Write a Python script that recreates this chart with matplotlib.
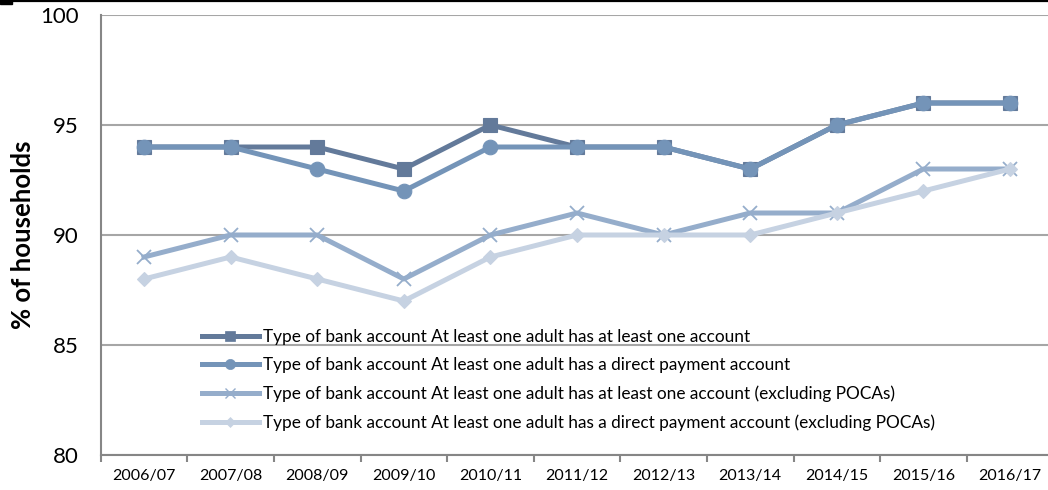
import numpy as np
import matplotlib.pyplot as plt
from matplotlib.lines import Line2D
from matplotlib.patches import Rectangle

plt.rcParams['font.family'] = ['Lato', 'DejaVu Sans']

years = ['2006/07', '2007/08', '2008/09', '2009/10', '2010/11', '2011/12',
         '2012/13', '2013/14', '2014/15', '2015/16', '2016/17']

any_account = [94, 94, 94, 93, 95, 94, 94, 93, 95, 96, 96]
direct_payment = [94, 94, 93, 92, 94, 94, 94, 93, 95, 96, 96]
any_account_ex_poca = [89, 90, 90, 88, 90, 91, 90, 91, 91, 93, 93]
direct_payment_ex_poca = [88, 89, 88, 87, 89, 90, 90, 90, 91, 92, 93]

labels = [
    'Type of bank account At least one adult has at least one account',
    'Type of bank account At least one adult has a direct payment account',
    'Type of bank account At least one adult has at least one account (excluding POCAs)',
    'Type of bank account At least one adult has a direct payment account (excluding POCAs)',
]
colors = ['#637A9A', '#7494B8', '#95ADCB', '#C6D2E2']

fig = plt.figure(figsize=(10.48, 4.9), dpi=100)
ax = fig.add_axes([100.7 / 1048, 35 / 490, 952.6 / 1048, 440 / 490])

x = np.arange(len(years))
series = [any_account, direct_payment, any_account_ex_poca, direct_payment_ex_poca]
styles = [
    dict(marker='s', markersize=10),
    dict(marker='o', markersize=10.5),
    dict(marker='x', markersize=10, markeredgewidth=1.3),
    dict(marker='D', markersize=7.5),
]
for vals, lab, col, st in zip(series, labels, colors, styles):
    kw = dict(st)
    if kw['marker'] != 'x':
        kw['markeredgewidth'] = 0.8
    ax.plot(x, vals, color=col, linewidth=3.6, markerfacecolor=col,
            markeredgecolor=col, solid_joinstyle='round', label=lab,
            clip_on=False, zorder=3, **kw)

ax.set_xlim(-0.5, len(years) - 0.5)
ax.set_ylim(80, 100)
ax.set_yticks([80, 85, 90, 95, 100])
ax.set_xticks(x)
ax.set_xticklabels(years, fontsize=11.5)
ax.set_xticks(np.arange(-0.5, len(years), 1.0), minor=True)
ax.tick_params(axis='x', which='major', length=0, pad=10)
ax.tick_params(axis='x', which='minor', length=5, width=1.5, color='#868686',
               direction='out')
ax.tick_params(axis='y', length=0, labelsize=16, pad=16)

ax.grid(axis='y', color='#A6A6A6', linewidth=1.5)
ax.set_axisbelow(True)
for side in ['top', 'right']:
    ax.spines[side].set_visible(False)
for side in ['left', 'bottom']:
    ax.spines[side].set_color('#868686')
    ax.spines[side].set_linewidth(1.5)

ax.set_ylabel('% of households', fontsize=18.5, fontweight='bold')
ax.yaxis.set_label_coords(-0.069, 0.5)

leg_handles = []
for col, st in zip(colors, styles):
    ms = st['markersize'] * 0.7
    mew = 1.0 if st['marker'] == 'x' else 0.5
    leg_handles.append(Line2D([], [], color=col, linewidth=3.6, marker=st['marker'],
                              markersize=ms, markerfacecolor=col,
                              markeredgecolor=col, markeredgewidth=mew))
fig.legend(leg_handles, labels, loc='upper left',
           bbox_to_anchor=(202 / 1048, 1 - 329 / 490),
           frameon=False, fontsize=12.4, handlelength=3.3, handletextpad=0.25,
           labelspacing=0.72, borderpad=0, borderaxespad=0)

# black rule along the top edge
fig.add_artist(Line2D([0, 1], [1 - 1 / 490, 1 - 1 / 490], color='black',
                      linewidth=1.6, transform=fig.transFigure))
fig.add_artist(Rectangle((0, 1 - 4 / 490), 12 / 1048, 4 / 490, color='black',
                         transform=fig.transFigure))

fig.savefig('out.png', dpi=100)
